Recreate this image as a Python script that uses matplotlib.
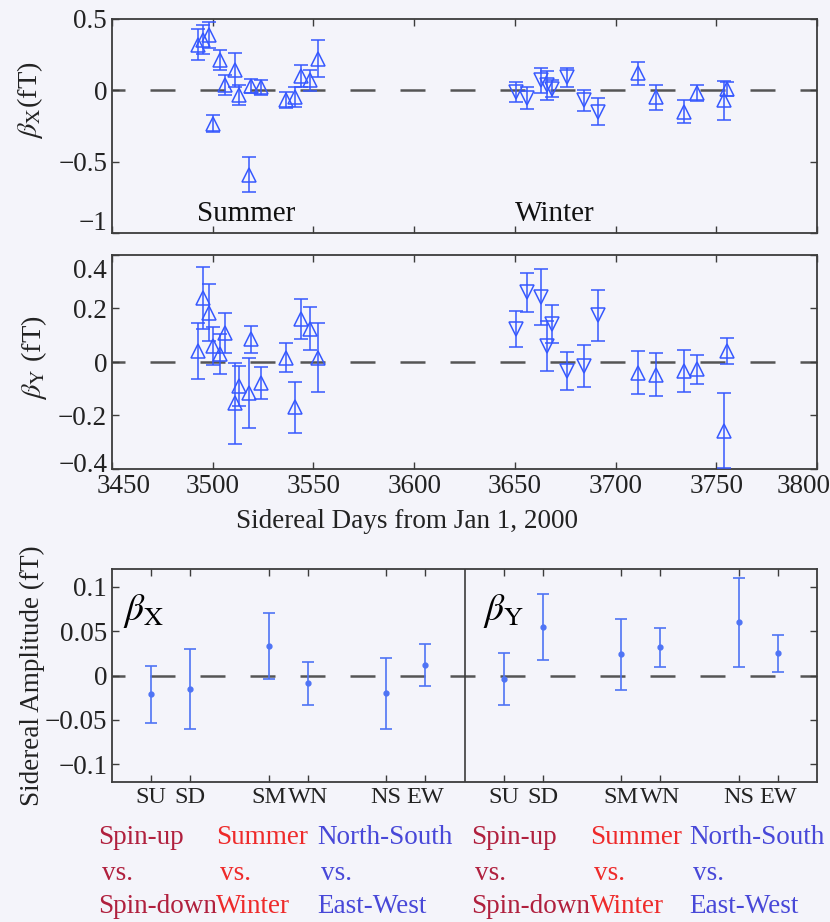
import matplotlib
matplotlib.use('Agg')
import matplotlib.pyplot as plt
import matplotlib.transforms as mtransforms
import numpy as np

plt.rcParams['font.family'] = ['Liberation Serif', 'DejaVu Serif']
plt.rcParams['mathtext.fontset'] = 'stix'

# ---------------- data ----------------
summer_days = [3492.5, 3495, 3498, 3500, 3503.5, 3506, 3511, 3513, 3518, 3519,
               3524, 3536.5, 3541, 3544, 3548.5, 3552.5]
winter_days = [3650.5, 3656, 3663, 3666, 3668.5, 3676, 3684.5, 3691.5, 3711,
               3720, 3734, 3740.5, 3754, 3755.5]
winter_spin = ['down'] * 8 + ['up'] * 6

bx_summer = [0.32, 0.355, 0.39, -0.235, 0.21, 0.035, 0.14, -0.035, -0.59, 0.03,
             0.02, -0.07, -0.05, 0.10, 0.07, 0.22]
bx_summer_err = [0.11, 0.10, 0.09, 0.06, 0.07, 0.07, 0.12, 0.07, 0.12, 0.05,
                 0.055, 0.055, 0.07, 0.08, 0.075, 0.13]
bx_winter = [-0.01, -0.055, 0.07, 0.035, 0.01, 0.09, -0.07, -0.15, 0.12, -0.05,
             -0.15, -0.02, -0.07, 0.01]
bx_winter_err = [0.07, 0.075, 0.09, 0.10, 0.06, 0.065, 0.075, 0.095, 0.08, 0.085,
                 0.08, 0.055, 0.135, 0.05]

by_summer = [0.04, 0.24, 0.185, 0.06, 0.03, 0.11, -0.155, -0.09, -0.115, 0.085,
             -0.077, 0.016, -0.17, 0.16, 0.125, 0.016]
by_summer_err = [0.105, 0.115, 0.105, 0.07, 0.075, 0.075, 0.15, 0.075, 0.13, 0.05,
                 0.06, 0.055, 0.095, 0.075, 0.08, 0.13]
by_winter = [0.123, 0.26, 0.243, 0.06, 0.142, -0.034, -0.015, 0.174, -0.04, -0.047,
             -0.034, -0.028, -0.257, 0.04]
by_winter_err = [0.067, 0.073, 0.103, 0.095, 0.07, 0.07, 0.078, 0.095, 0.08, 0.08,
                 0.077, 0.055, 0.14, 0.048]

cat_labels = ['SU', 'SD', 'SM', 'WN', 'NS', 'EW']
amp_x = [-0.021, -0.015, 0.033, -0.009, -0.020, 0.0115]
amp_x_err = [0.032, 0.045, 0.037, 0.024, 0.040, 0.0235]
amp_y = [-0.004, 0.055, 0.024, 0.032, 0.060, 0.025]
amp_y_err = [0.029, 0.037, 0.040, 0.022, 0.050, 0.021]

top_yticks = [0.5, 0, -0.5, -1]
top_yticklabels = ['0.5', '0', '\u22120.5', '\u22121']
mid_yticks = [0.4, 0.2, 0, -0.2, -0.4]
mid_yticklabels = ['0.4', '0.2', '0', '\u22120.2', '\u22120.4']
day_ticks = [3450, 3500, 3550, 3600, 3650, 3700, 3750, 3800]
amp_yticks = [0.1, 0.05, 0, -0.05, -0.1]
amp_yticklabels = ['0.1', '0.05', '0', '\u22120.05', '\u22120.1']

group_texts = [('Spin-up', 'vs.', 'Spin-down'),
               ('Summer', 'vs.', 'Winter'),
               ('North-South', 'vs.', 'East-West')]

# ---------------- style ----------------
BG = '#f4f4fa'
BLUE = '#3658ff'
BLUE2 = '#4f74f5'
SPINE = '#3c3c3c'
ZERO = '#555555'
group_colors = ['#b0203e', '#ee2a2a', '#4848d8']
FS = 19.5

W, H = 830, 922
fig = plt.figure(figsize=(W / 100, H / 100), dpi=100, facecolor=BG)


def rect(x0, y0, x1, y1):
    return [x0 / W, 1 - y1 / H, (x1 - x0) / W, (y1 - y0) / H]


ax1 = fig.add_axes(rect(112, 19, 817, 233))
ax2 = fig.add_axes(rect(112, 255, 817, 469))
ax3 = fig.add_axes(rect(112, 569, 817, 782))

dash_ls = (4.8, (10, 10))


def style(ax):
    ax.set_facecolor(BG)
    for s in ax.spines.values():
        s.set_color(SPINE)
        s.set_linewidth(1.3)
    ax.tick_params(direction='in', length=5, width=1, colors=SPINE,
                   top=True, right=True, labelsize=FS, labelcolor='#222222')
    ax.axhline(0, color=ZERO, lw=1.8, ls=dash_ls, zorder=1)


def draw_series(ax, days, vals, errs, markers):
    ax.errorbar(days, vals, yerr=errs, fmt='none', ecolor=BLUE, elinewidth=1.1,
                capsize=5, capthick=1.1, zorder=3)
    for d, v, m in zip(days, vals, markers):
        ax.plot([d], [v], marker=m, ms=10, mfc='none', mec=BLUE, mew=1.1,
                ls='none', zorder=4)


mk_summer = ['^'] * len(summer_days)
mk_winter = ['v' if s == 'down' else '^' for s in winter_spin]

for ax, s_v, s_e, w_v, w_e in [(ax1, bx_summer, bx_summer_err, bx_winter, bx_winter_err),
                               (ax2, by_summer, by_summer_err, by_winter, by_winter_err)]:
    style(ax)
    draw_series(ax, summer_days, s_v, s_e, mk_summer)
    draw_series(ax, winter_days, w_v, w_e, mk_winter)
    ax.set_xlim(3450, 3800)
    ax.set_xticks(day_ticks)

ax1.set_ylim(-1.0, 0.5)
ax1.set_yticks(top_yticks)
ax1.set_yticklabels(top_yticklabels)
ax1.set_xticklabels([])
ax1.text(3516.5, -0.87, 'Summer', fontsize=21, ha='center', va='center', color='#111111')
ax1.text(3670, -0.87, 'Winter', fontsize=21, ha='center', va='center', color='#111111')
ax1.set_ylabel(r'$\beta_{\rm X}$(fT)', fontsize=FS + 1, color='#222222')
ax1.yaxis.set_label_coords(-0.095, 0.62)

ax2.set_ylim(-0.4, 0.4)
ax2.set_yticks(mid_yticks)
ax2.set_yticklabels(mid_yticklabels)
ax2.set_xticklabels([str(t) for t in day_ticks])
ax2.set_ylabel(r'$\beta_{\rm Y}$ (fT)', fontsize=FS + 1, color='#222222')
ax2.yaxis.set_label_coords(-0.09, 0.52)
fig.text(407 / W, 1 - 521 / H, 'Sidereal Days from Jan 1, 2000', fontsize=FS,
         ha='center', va='center', color='#222222')

# bottom amplitude panel
style(ax3)
cat_pos = np.array([1, 2, 4, 5, 7, 8])
offset = 9
ax3.errorbar(cat_pos, amp_x, yerr=amp_x_err, fmt='o', ms=3.5, color=BLUE2,
             ecolor=BLUE2, elinewidth=1.2, capsize=4.5, capthick=1.2, zorder=3)
ax3.errorbar(cat_pos + offset, amp_y, yerr=amp_y_err, fmt='o', ms=3.5, color=BLUE2,
             ecolor=BLUE2, elinewidth=1.2, capsize=4.5, capthick=1.2, zorder=3)
ax3.axvline(offset, color=SPINE, lw=1.2, zorder=2)
ax3.set_xlim(0, 2 * offset)
ax3.set_ylim(-0.12, 0.12)
ax3.set_xticks(np.concatenate([cat_pos, cat_pos + offset]))
ax3.set_xticklabels(cat_labels + cat_labels)
ax3.tick_params(axis='x', labelsize=17.5)
ax3.set_yticks(amp_yticks)
ax3.set_yticklabels(amp_yticklabels)
ax3.set_ylabel('Sidereal Amplitude (fT)', fontsize=FS, color='#222222')
ax3.yaxis.set_label_coords(-0.095, 0.5)
ax3.text(0.28, 0.073, r'$\beta_{\rm X}$', fontsize=27, ha='left', va='center')
ax3.text(offset + 0.47, 0.073, r'$\beta_{\rm Y}$', fontsize=27, ha='left', va='center')


# nudge edge tick labels inward, as in the reference
def nudge(label, dx_px, dy_px):
    off = mtransforms.ScaledTranslation(dx_px / 100, dy_px / 100, fig.dpi_scale_trans)
    label.set_transform(label.get_transform() + off)


nudge(ax1.yaxis.get_major_ticks()[3].label1, 0, 12)
nudge(ax2.yaxis.get_major_ticks()[0].label1, 0, -14)
nudge(ax2.yaxis.get_major_ticks()[4].label1, 0, 6)
nudge(ax2.xaxis.get_major_ticks()[0].label1, 12, 0)
nudge(ax2.xaxis.get_major_ticks()[7].label1, -13, 0)

# coloured group descriptions
group_x_left = [[98, 216, 317], [471, 590, 689]]
indent = [0, 4, 0]
row_y = [838, 873, 906]
for xs in group_x_left:
    for gx, lines, col in zip(xs, group_texts, group_colors):
        for k, (line, ry) in enumerate(zip(lines, row_y)):
            fig.text((gx + indent[k]) / W, 1 - ry / H, line, fontsize=FS,
                     ha='left', va='center', color=col)

fig.savefig('out.png', dpi=100, facecolor=BG)
